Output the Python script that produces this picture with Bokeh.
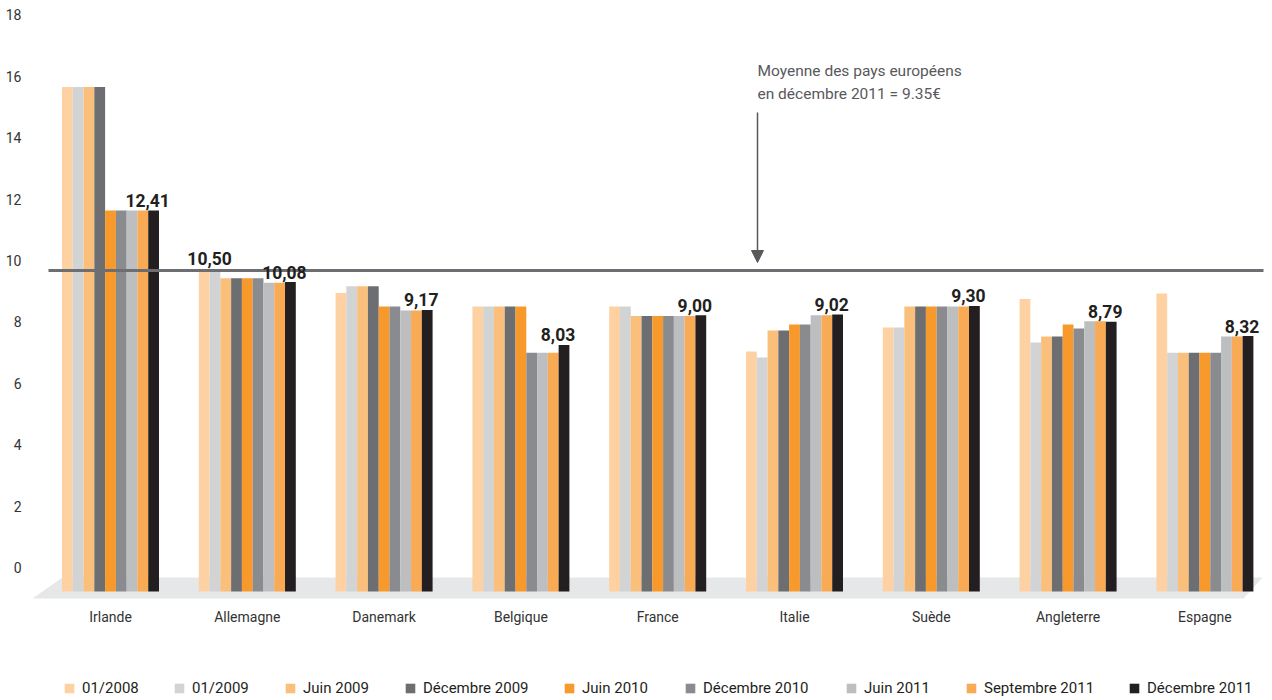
from bokeh.plotting import figure
from bokeh.layouts import column
from bokeh.models import Range1d, FixedTicker, Legend, LegendItem, NormalHead, Arrow, ColumnDataSource
from bokeh.core.properties import value
from bokeh.embed import file_html
from bokeh.resources import INLINE

# ---------------- data ----------------
countries = ["Irlande", "Allemagne", "Danemark", "Belgique", "France",
             "Italie", "Suède", "Angleterre", "Espagne"]
periods = ["01/2008", "01/2009", "Juin 2009", "Décembre 2009", "Juin 2010",
           "Décembre 2010", "Juin 2011", "Septembre 2011", "Décembre 2011"]

v_01_2008 = [16.43, 10.50, 9.72, 9.28, 9.28, 7.82, 8.60, 9.53, 9.71]
v_01_2009 = [16.43, 10.50, 9.94, 9.28, 9.28, 7.62, 8.60, 8.11, 7.78]
v_juin_2009 = [16.43, 10.20, 9.94, 9.28, 8.97, 8.50, 9.28, 8.31, 7.78]
v_dec_2009 = [16.43, 10.20, 9.94, 9.28, 8.97, 8.50, 9.28, 8.31, 7.78]
v_juin_2010 = [12.41, 10.20, 9.28, 9.28, 8.97, 8.70, 9.28, 8.70, 7.78]
v_dec_2010 = [12.41, 10.20, 9.28, 7.78, 8.97, 8.70, 9.28, 8.57, 7.78]
v_juin_2011 = [12.41, 10.06, 9.15, 7.78, 8.97, 9.00, 9.28, 8.80, 8.31]
v_sept_2011 = [12.41, 10.06, 9.15, 7.78, 8.97, 9.00, 9.28, 8.80, 8.31]
v_dec_2011 = [12.41, 10.08, 9.17, 8.03, 9.00, 9.02, 9.30, 8.79, 8.32]
series = [v_01_2008, v_01_2009, v_juin_2009, v_dec_2009, v_juin_2010,
          v_dec_2010, v_juin_2011, v_sept_2011, v_dec_2011]

colors = ["#FDD1A2", "#D1D3D4", "#FBBF7C", "#6D6E71", "#F7992B",
          "#8A8B8E", "#BCBEC0", "#F9AA55", "#231F20"]

y_tick_values = [0, 2, 4, 6, 8, 10, 12, 14, 16, 18]
avg_value = 9.35          # value quoted in the annotation
avg_line_level = 10.46    # where the reference draws the line

# ---------------- layout constants ----------------
FONT = "Roboto"
PX_PER_CAT = 136.8
PX_PER_UNIT = 30.7
W = 1272
H_MAIN, H_LEG = 640, 60
LEFT, RIGHT = 28, 4
FRAME_W = W - LEFT - RIGHT
FRAME_H = 599
FL, FT = LEFT, 0               # page position of the frame's left / top
X0 = (FL - 110) / PX_PER_CAT   # Irlande group centred at page x 110
Y0 = -(FT + FRAME_H - 591) / PX_PER_UNIT   # baseline at page y 591
TICK_SHIFT = 0.78        # back-wall offset of the value axis labels
BAR_W = 97 / 9 / PX_PER_CAT
TXT = "#231F20"
GREY = "#58595B"

def px_x(px):
    return X0 + (px - FL) / PX_PER_CAT

def px_y(py):
    return Y0 + (FT + FRAME_H - py) / PX_PER_UNIT

p = figure(width=W, height=H_MAIN,
           x_range=Range1d(X0, X0 + FRAME_W / PX_PER_CAT),
           y_range=Range1d(Y0, Y0 + FRAME_H / PX_PER_UNIT),
           output_backend="svg", toolbar_location=None, frame_align=False,
           min_border_left=LEFT, min_border_right=RIGHT, min_border_top=0,
           min_border_bottom=H_MAIN - FRAME_H,
           outline_line_color=None, background_fill_color="white",
           border_fill_color="white")
p.xgrid.visible = False
p.ygrid.visible = False

# floor
p.patch([px_x(62), px_x(1262), px_x(1243), px_x(32)],
        [px_y(577), px_y(577), px_y(598), px_y(598)],
        fill_color="#E6E7E8", line_color=None)

# bars
for j, (vals, col) in enumerate(zip(series, colors)):
    xs = [i + (j - 4) * BAR_W for i in range(len(countries))]
    src = ColumnDataSource(dict(x=xs, top=vals))
    p.vbar(x="x", top="top", width=BAR_W, bottom=0, source=src,
           fill_color=col, line_color=None)

# average line + annotation
p.segment(x0=px_x(48), x1=px_x(1263), y0=avg_line_level, y1=avg_line_level,
          line_color="#6D6E71", line_width=3)
ax = px_x(757)
p.add_layout(Arrow(end=NormalHead(size=12, fill_color=GREY, line_color=GREY),
                   x_start=ax, y_start=px_y(112), x_end=ax, y_end=px_y(262),
                   line_color=GREY, line_width=1.5))
p.text(x=[ax, ax], y=[px_y(70), px_y(93)],
       text=["Moyenne des pays européens", f"en décembre 2011 = {avg_value:.2f}€"],
       text_font=value(FONT), text_font_size="15.5px", text_color=GREY,
       text_baseline="middle", text_align="left")

# value labels
lab_x = [i + 4 * BAR_W for i in range(len(countries))]
lab_txt = [f"{v:.2f}".replace(".", ",") for v in v_dec_2011]
p.text(x=lab_x, y=v_dec_2011, text=lab_txt, text_font=value(FONT),
       text_font_size="17.5px", text_font_style="bold", text_color=TXT,
       text_align="center", text_baseline="alphabetic", x_offset=-6, y_offset=-10)
p.text(x=[1 - 3.5 * BAR_W], y=[v_01_2008[1]],
       text=[f"{v_01_2008[1]:.2f}".replace(".", ",")], text_font=value(FONT),
       text_font_size="17.5px", text_font_style="bold", text_color=TXT,
       text_align="center", text_baseline="alphabetic", y_offset=-11)

# axes
ticks_y = [round(t + TICK_SHIFT, 2) for t in y_tick_values]
p.yaxis.ticker = FixedTicker(ticks=ticks_y)
p.yaxis.major_label_overrides = {tk: str(t) for tk, t in zip(ticks_y, y_tick_values)}
p.xaxis.ticker = FixedTicker(ticks=list(range(len(countries))))
p.xaxis.major_label_overrides = {i: c for i, c in enumerate(countries)}
for axis in (p.xaxis, p.yaxis):
    axis.axis_line_color = None
    axis.major_tick_line_color = None
    axis.minor_tick_line_color = None
    axis.major_tick_out = 0
    axis.major_tick_in = 0
    axis.major_label_text_font = FONT
    axis.major_label_text_color = "#333333"
p.yaxis.major_label_text_font_size = "14px"
p.yaxis.major_label_standoff = 7
p.xaxis.major_label_text_font_size = "14px"
p.xaxis.major_label_standoff = 9

# ---------------- legend strip ----------------
lf = figure(width=W, height=H_LEG, x_range=Range1d(0, W), y_range=Range1d(0, H_LEG),
            output_backend="svg", toolbar_location=None, frame_align=False,
            x_axis_type=None, y_axis_type=None,
            min_border_left=0, min_border_right=0, min_border_top=0, min_border_bottom=0,
            outline_line_color=None, background_fill_color="white",
            border_fill_color="white")
lf.xgrid.visible = False
lf.ygrid.visible = False
sq_x = [63, 173, 284, 404, 563, 684, 845, 965, 1128]
for lab, col, sx in zip(periods, colors, sq_x):
    # zero-height proxy bar: only its legend swatch is visible
    r = lf.vbar(x=[0], top=[0], bottom=0, width=1, fill_color=col, line_color=None)
    lg = Legend(items=[LegendItem(label=lab, renderers=[r])],
                location=(sx, 2), orientation="horizontal",
                glyph_width=12, glyph_height=12, label_standoff=7,
                label_height=20, padding=0, margin=0, spacing=0,
                border_line_color=None, background_fill_alpha=0,
                label_text_font=FONT, label_text_font_size="15px",
                label_text_color=TXT)
    lf.add_layout(lg)

layout = column(p, lf, spacing=0)
open("out.html", "w").write(file_html(layout, INLINE))
